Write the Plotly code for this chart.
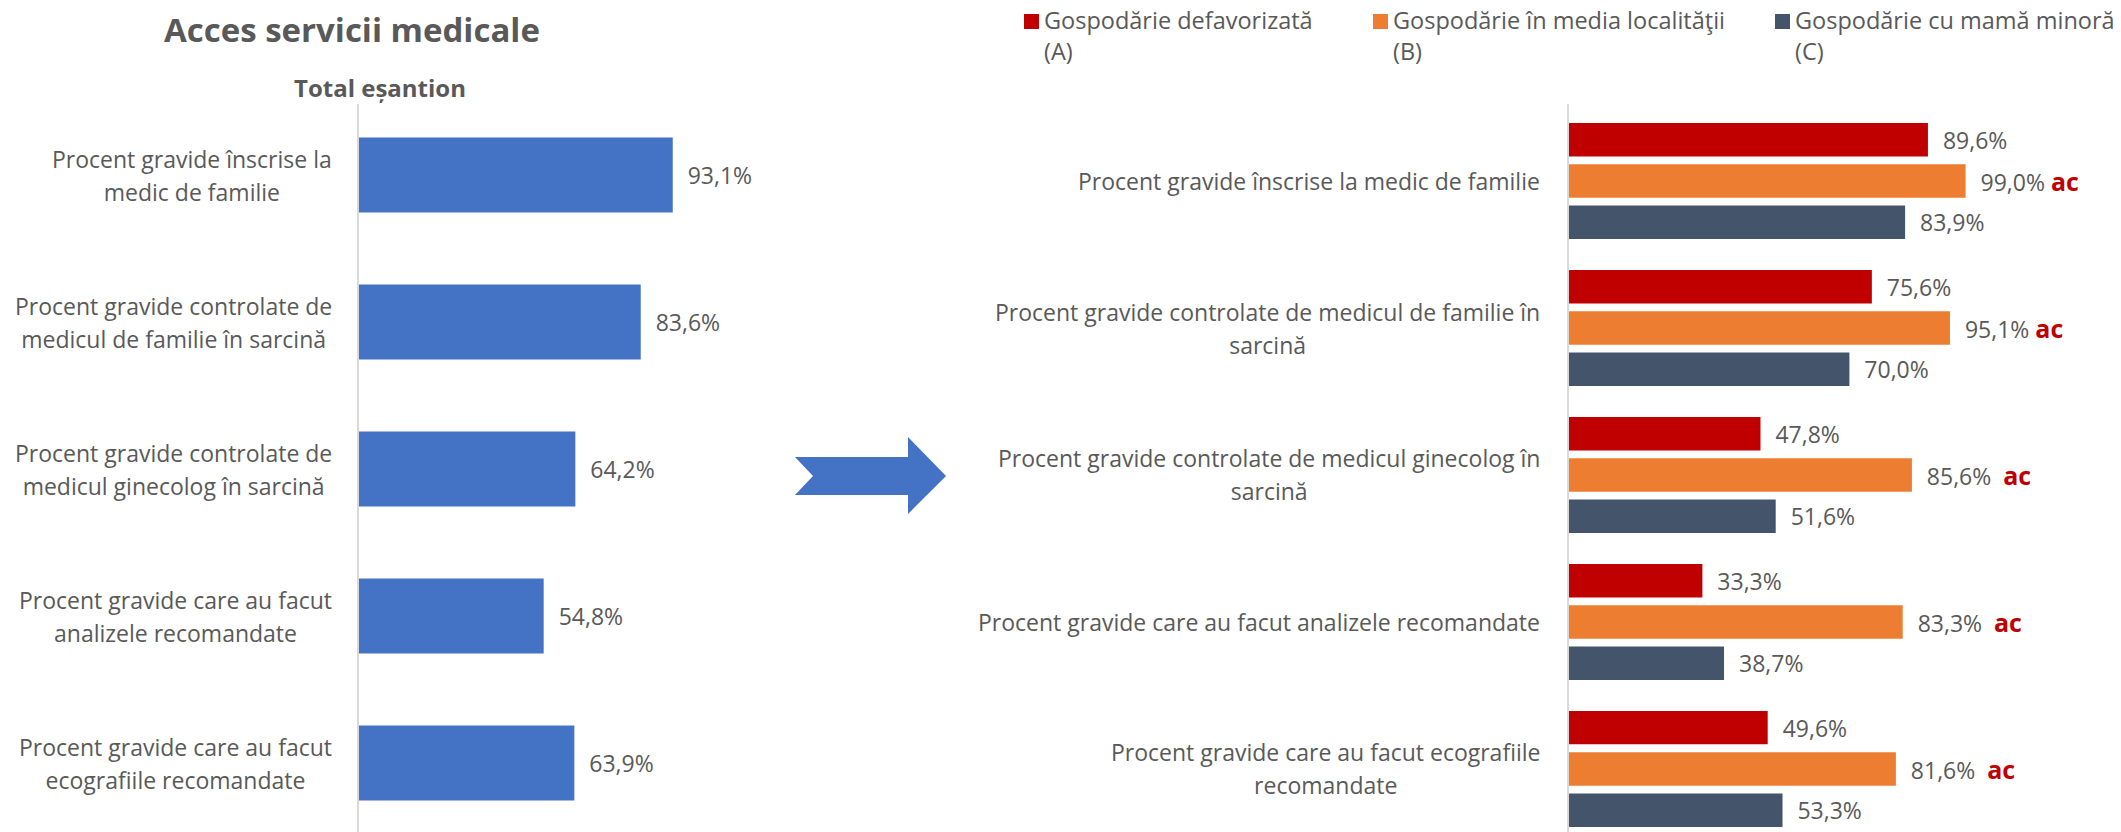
import plotly.graph_objects as go

# ---------------- data ----------------
categories = [
    "Procent gravide înscrise la medic de familie",
    "Procent gravide controlate de medicul de familie în sarcină",
    "Procent gravide controlate de medicul ginecolog în sarcină",
    "Procent gravide care au facut analizele recomandate",
    "Procent gravide care au facut ecografiile recomandate",
]
left_labels = [
    "Procent gravide înscrise la<br>medic de familie",
    "Procent gravide controlate de<br>medicul de familie în sarcină",
    "Procent gravide controlate de<br>medicul ginecolog în sarcină",
    "Procent gravide care au facut<br>analizele recomandate",
    "Procent gravide care au facut<br>ecografiile recomandate",
]
right_labels = [
    "Procent gravide înscrise la medic de familie",
    "Procent gravide controlate de medicul de familie în<br>sarcină",
    "Procent gravide controlate de medicul ginecolog în<br>sarcină",
    "Procent gravide care au facut analizele recomandate",
    "Procent gravide care au facut ecografiile<br>recomandate",
]
total_esantion = [93.1, 83.6, 64.2, 54.8, 63.9]
defavorizata = [89.6, 75.6, 47.8, 33.3, 49.6]
media_localitatii = [99.0, 95.1, 85.6, 83.3, 81.6]
mama_minora = [83.9, 70.0, 51.6, 38.7, 53.3]
significance = ["ac", "ac", "ac", "ac", "ac"]
series_names = ["Gospodărie defavorizată<br>(A)",
                "Gospodărie în media localităţii<br>(B)",
                "Gospodărie cu mamă minoră<br>(C)"]
title_text = "Acces servicii medicale"
subtitle_text = "Total eșantion"

# ---------------- styling ----------------
W, H = 2121, 832
FONT = "Open Sans"
GRAY = "#595959"
BLUE = "#4472C4"
COLORS = ["#C00000", "#ED7D31", "#44546A"]
NB = "\u00a0"


def px(x):
    return x / W


def py(y):
    return 1 - y / H


def fmt(v):
    return f"{v:.1f}".replace(".", ",") + "%"


top_px = 104
y_dom = [0, py(top_px)]

fig = go.Figure()

# left chart
fig.add_trace(go.Bar(
    y=categories, x=total_esantion, orientation="h",
    xaxis="x", yaxis="y", width=0.51,
    marker=dict(color=BLUE, line=dict(width=0)),
    text=[NB * 2 + fmt(v) for v in total_esantion],
    textposition="outside", constraintext="none", cliponaxis=False,
    textfont=dict(family=FONT, size=23, color=GRAY),
    showlegend=False, hoverinfo="x+y",
))

# right chart
ac_gaps = [1, 1, 2, 2, 2]
series_vals = [defavorizata, media_localitatii, mama_minora]
for i, vals in enumerate(series_vals):
    if i == 1:
        texts = [NB * 2 + fmt(v) + NB * g +
                 f"<b><span style='color:#C00000;font-size:25px'>{s}</span></b>"
                 for v, s, g in zip(vals, significance, ac_gaps)]
    else:
        texts = [NB * 2 + fmt(v) for v in vals]
    fig.add_trace(go.Bar(
        y=categories, x=vals, orientation="h",
        xaxis="x2", yaxis="y2", name=series_names[i],
        marker=dict(color=COLORS[i], line=dict(width=0)),
        text=texts, textposition="outside", constraintext="none",
        cliponaxis=False,
        textfont=dict(family=FONT, size=23, color=GRAY),
        showlegend=False,
    ))

axis_common = dict(showgrid=False, zeroline=False, showticklabels=False,
                   ticks="", fixedrange=True)

fig.update_layout(
    width=W, height=H,
    margin=dict(l=0, r=0, t=0, b=0),
    paper_bgcolor="white", plot_bgcolor="white",
    font=dict(family=FONT, color=GRAY),
    barmode="group", bargap=0.157, bargroupgap=0.19,
    xaxis=dict(domain=[px(359), px(359 + 337 * 1.2)], range=[0, 120],
               anchor="y", **axis_common),
    yaxis=dict(domain=y_dom, range=[4.469, -0.483], anchor="x",
               type="category", categoryorder="array", categoryarray=categories,
               showline=True, linecolor="#D9D9D9", linewidth=1.5,
               **axis_common),
    xaxis2=dict(domain=[px(1569), px(1569 + 400.6 * 1.1)], range=[0, 110],
                anchor="y2", **axis_common),
    yaxis2=dict(domain=y_dom, range=[4.429, -0.524], anchor="x2",
                type="category", categoryorder="array", categoryarray=categories,
                showline=True, linecolor="#D9D9D9", linewidth=1.5,
                **axis_common),
)

annotations = []


def rich(lab):
    return "<span style='font-size:23px'>" + lab.replace(
        "<br>", "</span><br><span style='font-size:23px'>") + "</span>"


# category labels (centered multi-line, right-anchored)
for cat, lab in zip(categories, left_labels):
    annotations.append(dict(
        xref="x domain", yref="y", x=0, y=cat, xanchor="right", yanchor="middle",
        xshift=-25, align="center", showarrow=False, text=rich(lab),
        font=dict(family=FONT, size=25.4, color=GRAY)))
for cat, lab in zip(categories, right_labels):
    annotations.append(dict(
        xref="x2 domain", yref="y2", x=0, y=cat, xanchor="right", yanchor="middle",
        xshift=-27, align="center", showarrow=False, text=rich(lab),
        font=dict(family=FONT, size=25.4, color=GRAY)))

# titles
annotations.append(dict(xref="paper", yref="paper", x=px(352), y=py(30),
                        xanchor="center", yanchor="middle", showarrow=False,
                        text=f"<b>{title_text}</b>",
                        font=dict(family=FONT, size=33, color=GRAY)))
annotations.append(dict(xref="paper", yref="paper", x=px(380), y=py(87),
                        xanchor="center", yanchor="middle", showarrow=False,
                        text=f"<b>{subtitle_text}</b>",
                        font=dict(family=FONT, size=24, color=GRAY)))

# manual legend
shapes = []
legend_sq_x = [1024, 1373, 1775]
for i, name in enumerate(series_names):
    x0 = legend_sq_x[i]
    shapes.append(dict(type="rect", xref="paper", yref="paper",
                       x0=px(x0), x1=px(x0 + 15), y0=py(29), y1=py(14),
                       fillcolor=COLORS[i], line=dict(width=0)))
    annotations.append(dict(xref="paper", yref="paper", x=px(x0 + 19), y=py(36),
                            xanchor="left", yanchor="middle", align="left",
                            borderpad=0, showarrow=False, text=name,
                            font=dict(family=FONT, size=23.5, color=GRAY)))

# arrow
arrow_pts = [(795, 457), (908, 457), (908, 437), (946, 476), (908, 514),
             (908, 495), (795, 495), (813, 476)]
path = "M " + " L ".join(f"{px(x):.5f},{py(y):.5f}" for x, y in arrow_pts) + " Z"
shapes.append(dict(type="path", xref="paper", yref="paper", path=path,
                   fillcolor=BLUE, line=dict(width=0)))

fig.update_layout(annotations=annotations, shapes=shapes)

fig.write_html("out.html",
               config={"displayModeBar": False},
               post_script="document.body.style.margin='0';")
